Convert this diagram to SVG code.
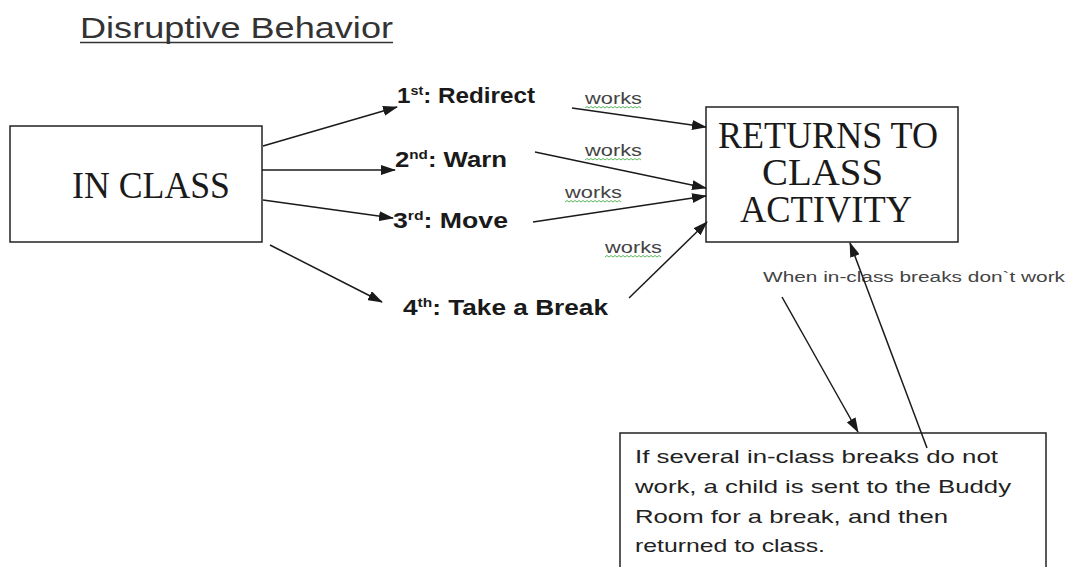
<svg xmlns="http://www.w3.org/2000/svg" width="1070" height="567" viewBox="0 0 1070 567">
  <style>
    .box { fill: #ffffff; stroke: #222; stroke-width: 1.5; }
    .hand { font-family: "Liberation Serif", serif; fill: #1a1a1a; }
    .step { font-family: "Liberation Sans", Arial, sans-serif; font-weight: bold; fill: #1a1a1a; font-size: 22px; }
    .sup { font-size: 13px; }
    .works { font-family: "Liberation Sans", Arial, sans-serif; fill: #444; font-size: 16px; }
    .wave { fill: none; stroke: #5cb85c; stroke-width: 1; }
    .conn { stroke: #1a1a1a; stroke-width: 1.5; fill: none; marker-end: url(#ah); }
    .body { font-family: "Liberation Sans", Arial, sans-serif; fill: #222; font-size: 19px; }
  </style>
  <defs>
    <marker id="ah" markerUnits="userSpaceOnUse" markerWidth="15" markerHeight="10" refX="14" refY="5" orient="auto">
      <path d="M0,0 L15,5 L0,10 Z" fill="#1a1a1a"/>
    </marker>
  </defs>
  <rect width="1070" height="567" fill="#ffffff"/>

  <g id="title">
    <text x="80" y="38" font-family="'Liberation Sans', Arial, sans-serif" font-size="30" fill="#333" textLength="313" lengthAdjust="spacingAndGlyphs">Disruptive Behavior</text>
    <line x1="80" y1="42.5" x2="393" y2="42.5" stroke="#333" stroke-width="1.5"/>
  </g>

  <g id="in-class">
    <rect class="box" x="10" y="126" width="252" height="116"/>
    <text class="hand" x="72" y="198" font-size="37" textLength="158" lengthAdjust="spacingAndGlyphs">IN CLASS</text>
  </g>

  <g id="returns">
    <rect class="box" x="706" y="107" width="252" height="135"/>
    <text class="hand" x="718" y="148" font-size="37" textLength="220" lengthAdjust="spacingAndGlyphs">RETURNS TO</text>
    <text class="hand" x="762" y="185" font-size="37" textLength="121" lengthAdjust="spacingAndGlyphs">CLASS</text>
    <text class="hand" x="740" y="222" font-size="37" textLength="172" lengthAdjust="spacingAndGlyphs">ACTIVITY</text>
  </g>

  <g id="step1">
    <text class="step" x="397" y="103" textLength="138" lengthAdjust="spacingAndGlyphs">1<tspan class="sup" dy="-8">st</tspan><tspan dy="8">: Redirect</tspan></text>
  </g>
  <g id="step2">
    <text class="step" x="395" y="167" textLength="112" lengthAdjust="spacingAndGlyphs">2<tspan class="sup" dy="-8">nd</tspan><tspan dy="8">: Warn</tspan></text>
  </g>
  <g id="step3">
    <text class="step" x="393" y="228" textLength="115" lengthAdjust="spacingAndGlyphs">3<tspan class="sup" dy="-8">rd</tspan><tspan dy="8">: Move</tspan></text>
  </g>
  <g id="step4">
    <text class="step" x="403" y="315" textLength="205" lengthAdjust="spacingAndGlyphs">4<tspan class="sup" dy="-8">th</tspan><tspan dy="8">: Take a Break</tspan></text>
  </g>

  <g id="works-labels">
    <text class="works" x="585" y="104" textLength="57" lengthAdjust="spacingAndGlyphs">works</text>
    <path class="wave" d="M585,108 l2,-1.5 l2,1.5 l2,-1.5 l2,1.5 l2,-1.5 l2,1.5 l2,-1.5 l2,1.5 l2,-1.5 l2,1.5 l2,-1.5 l2,1.5 l2,-1.5 l2,1.5 l2,-1.5 l2,1.5 l2,-1.5 l2,1.5 l2,-1.5 l2,1.5 l2,-1.5 l2,1.5 l2,-1.5 l2,1.5 l2,-1.5 l2,1.5 l2,-1.5 l2,1.5"/>
    <text class="works" x="585" y="156" textLength="57" lengthAdjust="spacingAndGlyphs">works</text>
    <path class="wave" d="M585,160 l2,-1.5 l2,1.5 l2,-1.5 l2,1.5 l2,-1.5 l2,1.5 l2,-1.5 l2,1.5 l2,-1.5 l2,1.5 l2,-1.5 l2,1.5 l2,-1.5 l2,1.5 l2,-1.5 l2,1.5 l2,-1.5 l2,1.5 l2,-1.5 l2,1.5 l2,-1.5 l2,1.5 l2,-1.5 l2,1.5 l2,-1.5 l2,1.5 l2,-1.5 l2,1.5"/>
    <text class="works" x="565" y="198" textLength="57" lengthAdjust="spacingAndGlyphs">works</text>
    <path class="wave" d="M565,202 l2,-1.5 l2,1.5 l2,-1.5 l2,1.5 l2,-1.5 l2,1.5 l2,-1.5 l2,1.5 l2,-1.5 l2,1.5 l2,-1.5 l2,1.5 l2,-1.5 l2,1.5 l2,-1.5 l2,1.5 l2,-1.5 l2,1.5 l2,-1.5 l2,1.5 l2,-1.5 l2,1.5 l2,-1.5 l2,1.5 l2,-1.5 l2,1.5 l2,-1.5 l2,1.5"/>
    <text class="works" x="605" y="253" textLength="57" lengthAdjust="spacingAndGlyphs">works</text>
    <path class="wave" d="M605,257 l2,-1.5 l2,1.5 l2,-1.5 l2,1.5 l2,-1.5 l2,1.5 l2,-1.5 l2,1.5 l2,-1.5 l2,1.5 l2,-1.5 l2,1.5 l2,-1.5 l2,1.5 l2,-1.5 l2,1.5 l2,-1.5 l2,1.5 l2,-1.5 l2,1.5 l2,-1.5 l2,1.5 l2,-1.5 l2,1.5 l2,-1.5 l2,1.5 l2,-1.5 l2,1.5"/>
  </g>

  <g id="when-label">
    <text x="763" y="282" font-family="'Liberation Sans', Arial, sans-serif" font-size="14" fill="#444" textLength="302" lengthAdjust="spacingAndGlyphs">When in-class breaks don`t work</text>
  </g>

  <g id="buddy-room">
    <rect class="box" x="620" y="433" width="426" height="160"/>
    <text class="body" x="635" y="463" textLength="363" lengthAdjust="spacingAndGlyphs">If several in-class breaks do not</text>
    <text class="body" x="635" y="493" textLength="376" lengthAdjust="spacingAndGlyphs">work, a child is sent to the Buddy</text>
    <text class="body" x="635" y="523" textLength="313" lengthAdjust="spacingAndGlyphs">Room for a break, and then</text>
    <text class="body" x="635" y="552" textLength="190" lengthAdjust="spacingAndGlyphs">returned to class.</text>
  </g>

  <g id="connectors">
    <line class="conn" x1="263" y1="146" x2="397" y2="107"/>
    <line class="conn" x1="262" y1="170" x2="395" y2="170"/>
    <line class="conn" x1="263" y1="200" x2="393" y2="218"/>
    <line class="conn" x1="270" y1="245" x2="382" y2="302"/>
    <line class="conn" x1="572" y1="108" x2="706" y2="127"/>
    <line class="conn" x1="535" y1="152" x2="706" y2="188"/>
    <line class="conn" x1="533" y1="222" x2="706" y2="196"/>
    <line class="conn" x1="629" y1="298" x2="707" y2="222"/>
    <line class="conn" x1="927" y1="448" x2="850" y2="243"/>
    <line class="conn" x1="782" y1="297" x2="858" y2="432"/>
  </g>
</svg>
